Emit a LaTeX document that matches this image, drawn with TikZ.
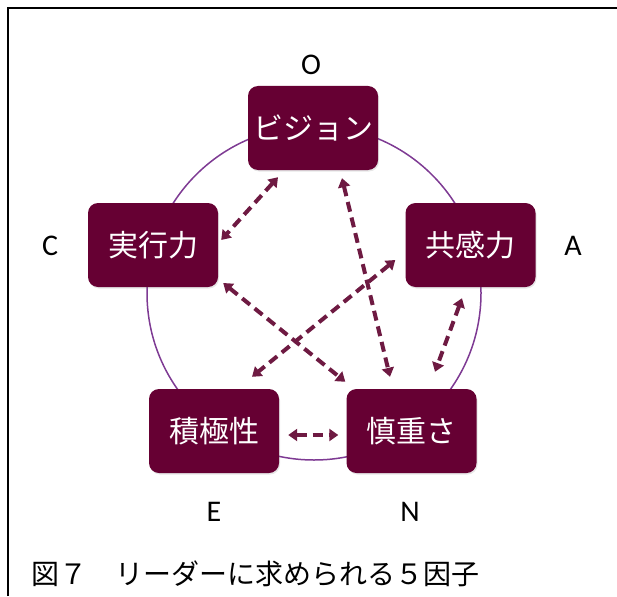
\documentclass[tikz,border=0pt]{standalone}
\usepackage{fontspec}
\newfontfamily\jpfont{Noto Sans CJK JP}
\newfontfamily\latinfont{Carlito}
\usetikzlibrary{arrows.meta,shadows}
\definecolor{boxc}{HTML}{660033}
\definecolor{arrowc}{HTML}{6E1A42}
\definecolor{ringc}{HTML}{7E3A93}
\begin{document}
\begin{tikzpicture}[x=1pt,y=-1pt,
  factor/.style={rounded corners=10pt, fill=boxc, draw=none, minimum width=130pt, minimum height=84pt, inner sep=0pt, text=white, font=\jpfont\fontsize{30}{32}\selectfont, drop shadow={opacity=0.2, shadow xshift=1pt, shadow yshift=-1.5pt}},
  letter/.style={inner sep=0pt, font=\latinfont\fontsize{30}{32}\selectfont},
  link/.style={draw=arrowc, line width=4pt, dash pattern=on 10pt off 6pt, {Triangle[width=12pt,length=9pt]}-{Triangle[width=12pt,length=9pt]}}]
\useasboundingbox (0,0) rectangle (617,596);
\draw [line width=2.4pt] (8,596) -- (8,8) -- (617,8);
\draw [ringc, line width=1.5pt] (314,293) circle (167pt);
\node [factor] (vis) at (313,128) {ビジョン};
\node [factor] (jik) at (153,245) {実行力};
\node [factor] (kyo) at (470.5,245) {共感力};
\node [factor] (sek) at (214,431) {積極性};
\node [factor] (shin) at (411.5,431) {慎重さ};
\node [letter] (o) at (311,65) {O};
\node [letter] (c) at (50,246) {C};
\node [letter] (a) at (573,246) {A};
\node [letter] (e) at (214,512) {E};
\node [letter] (n) at (410,512) {N};
\draw [link] ([shift={(-35pt,-7pt)}]vis.south) -- ([shift={(3pt,5pt)}]jik.east);
\draw [link] ([shift={(29pt,-8pt)}]vis.south) -- ([shift={(-21.5pt,12pt)}]shin.north);
\draw [link] ([shift={(-10pt,-15pt)}]kyo.west) -- ([shift={(38pt,12pt)}]sek.north);
\draw [link] ([shift={(5pt,-38pt)}]jik.east) -- ([shift={(-1pt,7pt)}]shin.north west);
\draw [link] ([shift={(-8.5pt,-11pt)}]kyo.south) -- ([shift={(23.5pt,17pt)}]shin.north);
\draw [link] ([shift={(9pt,-4pt)}]sek.east) -- ([shift={(-8pt,-4pt)}]shin.west);
\node [anchor=base west, inner sep=0pt, font=\jpfont\fontsize{28}{30}\selectfont] (cap) at (31,584) {図７　リーダーに求められる５因子};
\end{tikzpicture}
\end{document}
